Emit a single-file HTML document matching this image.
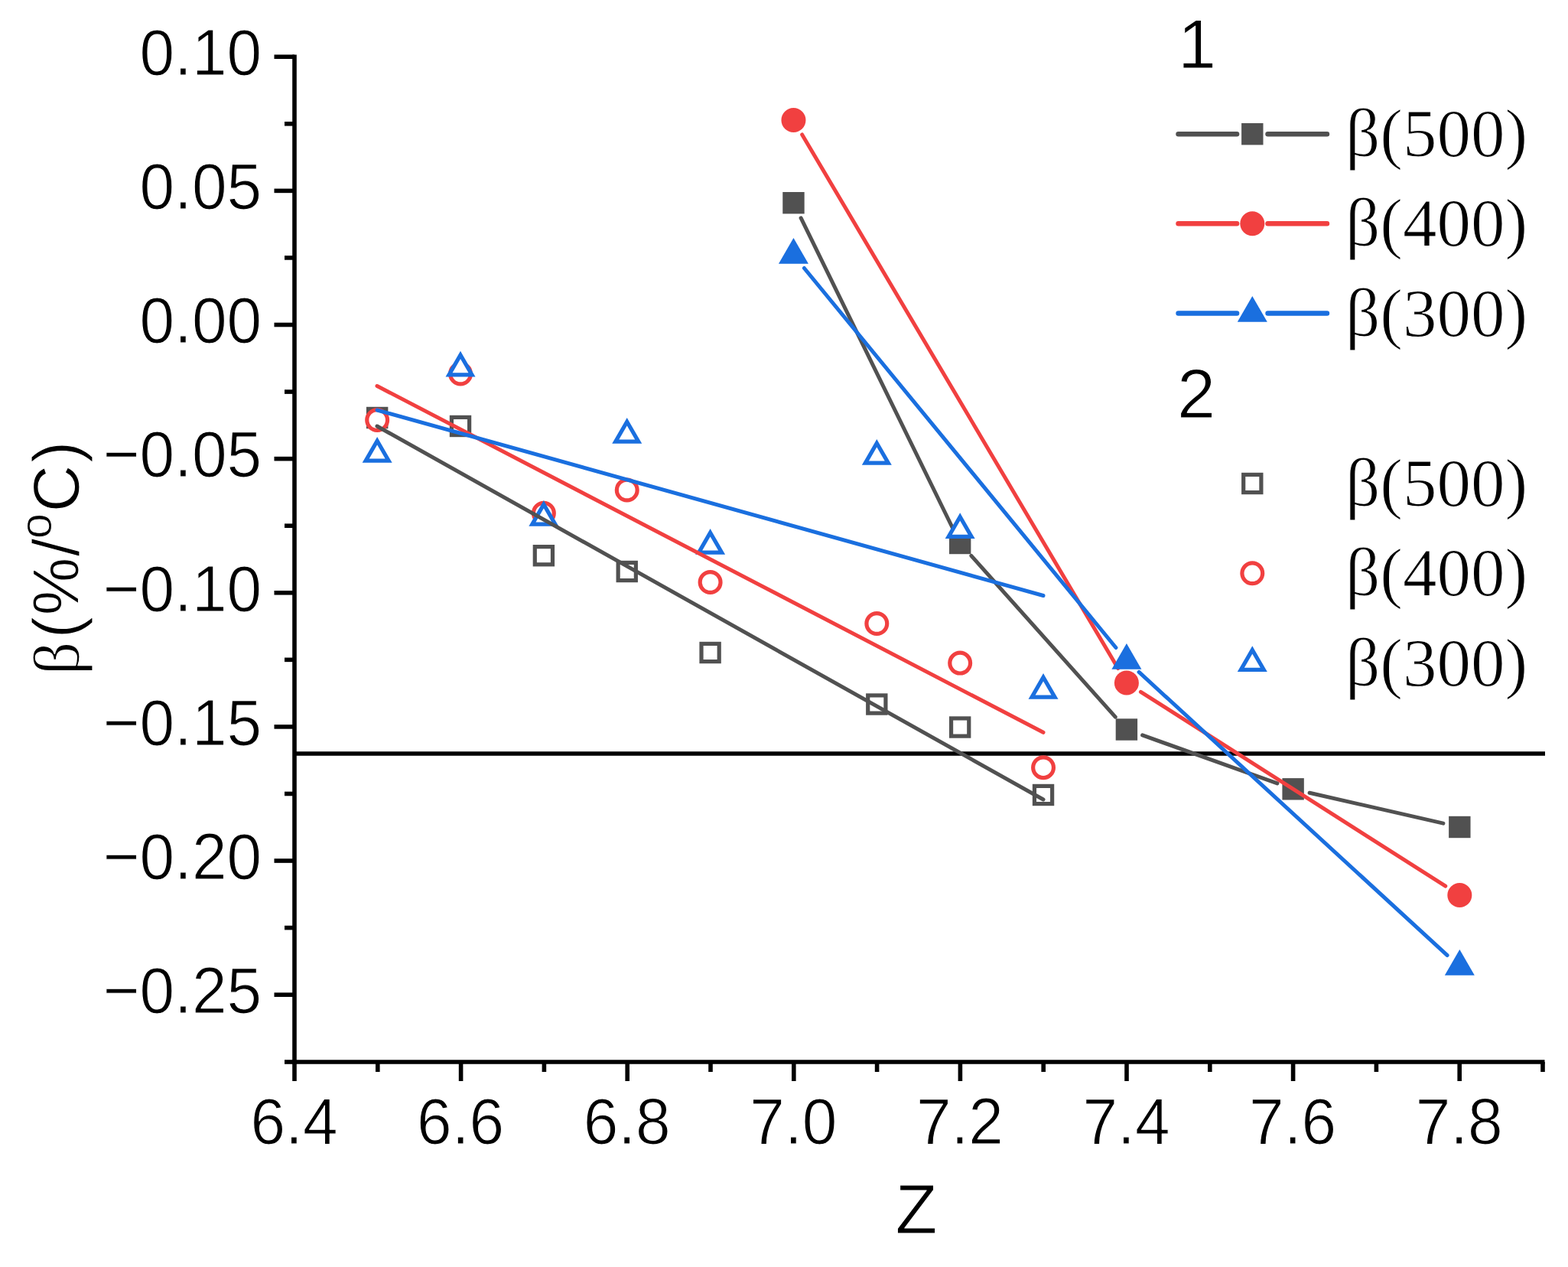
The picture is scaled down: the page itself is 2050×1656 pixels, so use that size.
<!DOCTYPE html>
<html lang="en">
<head>
<meta charset="utf-8">
<title>β(%/ºC) vs Z</title>
<style>
html,body{margin:0;padding:0;background:#fff;}
body{width:2050px;height:1656px;overflow:hidden;}
svg{display:block;}
.sans{font-family:"Liberation Sans",Arial,Helvetica,sans-serif;}
.serif{font-family:"Liberation Serif","Times New Roman",Times,serif;}
text{fill:#000;stroke:#fff;stroke-width:1.1px;stroke-linejoin:round;paint-order:fill stroke;}
</style>
</head>
<body>
<svg xmlns="http://www.w3.org/2000/svg" width="2050" height="1656" viewBox="0 0 2050 1656">
<rect x="0" y="0" width="2050" height="1656" fill="#fff"/>

<line id="refline" x1="385" y1="985" x2="2020" y2="985" stroke="#000" stroke-width="5.4"/>
<g id="group1">
<line x1="1047.13" y1="284.96" x2="1245.51" y2="690.24" stroke="#515151" stroke-width="5.0" stroke-linecap="round"/>
<line x1="1269.84" y1="726.40" x2="1458.24" y2="937.10" stroke="#515151" stroke-width="5.0" stroke-linecap="round"/>
<line x1="1493.62" y1="960.90" x2="1669.90" y2="1023.90" stroke="#515151" stroke-width="5.0" stroke-linecap="round"/>
<line x1="1712.07" y1="1036.20" x2="1886.89" y2="1076.10" stroke="#515151" stroke-width="5.0" stroke-linecap="round"/>
<rect x="1023.26" y="251.00" width="28.4" height="28.4" fill="#515151"/>
<rect x="1240.98" y="695.80" width="28.4" height="28.4" fill="#515151"/>
<rect x="1458.70" y="939.30" width="28.4" height="28.4" fill="#515151"/>
<rect x="1676.42" y="1017.10" width="28.4" height="28.4" fill="#515151"/>
<rect x="1894.14" y="1066.80" width="28.4" height="28.4" fill="#515151"/>
<line x1="1048.67" y1="175.93" x2="1461.69" y2="873.57" stroke="#F14040" stroke-width="5.0" stroke-linecap="round"/>
<line x1="1491.45" y1="904.32" x2="1889.79" y2="1158.18" stroke="#F14040" stroke-width="5.0" stroke-linecap="round"/>
<circle cx="1037.46" cy="157.00" r="16.0" fill="#F14040"/>
<circle cx="1472.90" cy="892.50" r="16.0" fill="#F14040"/>
<circle cx="1908.34" cy="1170.00" r="16.0" fill="#F14040"/>
<line x1="1051.43" y1="350.50" x2="1458.93" y2="846.50" stroke="#1A6FDF" stroke-width="5.0" stroke-linecap="round"/>
<line x1="1489.10" y1="878.38" x2="1892.14" y2="1248.62" stroke="#1A6FDF" stroke-width="5.0" stroke-linecap="round"/>
<polygon points="1037.46,310.98 1056.96,344.76 1017.96,344.76" fill="#1A6FDF"/>
<polygon points="1472.90,840.98 1492.40,874.76 1453.40,874.76" fill="#1A6FDF"/>
<polygon points="1908.34,1240.98 1927.84,1274.76 1888.84,1274.76" fill="#1A6FDF"/>
</g>
<g id="group2">
<rect x="481.56" y="534.40" width="23.2" height="23.2" fill="#fff" stroke="#515151" stroke-width="5.2"/>
<rect x="590.42" y="545.40" width="23.2" height="23.2" fill="#fff" stroke="#515151" stroke-width="5.2"/>
<rect x="699.28" y="714.60" width="23.2" height="23.2" fill="#fff" stroke="#515151" stroke-width="5.2"/>
<rect x="808.14" y="735.40" width="23.2" height="23.2" fill="#fff" stroke="#515151" stroke-width="5.2"/>
<rect x="917.00" y="841.40" width="23.2" height="23.2" fill="#fff" stroke="#515151" stroke-width="5.2"/>
<rect x="1134.72" y="908.90" width="23.2" height="23.2" fill="#fff" stroke="#515151" stroke-width="5.2"/>
<rect x="1243.58" y="938.90" width="23.2" height="23.2" fill="#fff" stroke="#515151" stroke-width="5.2"/>
<rect x="1352.44" y="1027.40" width="23.2" height="23.2" fill="#fff" stroke="#515151" stroke-width="5.2"/>
<circle cx="493.16" cy="549.00" r="13.4" fill="#fff" stroke="#F14040" stroke-width="5.2"/>
<circle cx="602.02" cy="488.50" r="13.4" fill="#fff" stroke="#F14040" stroke-width="5.2"/>
<circle cx="710.88" cy="670.70" r="13.4" fill="#fff" stroke="#F14040" stroke-width="5.2"/>
<circle cx="819.74" cy="640.50" r="13.4" fill="#fff" stroke="#F14040" stroke-width="5.2"/>
<circle cx="928.60" cy="761.00" r="13.4" fill="#fff" stroke="#F14040" stroke-width="5.2"/>
<circle cx="1146.32" cy="815.00" r="13.4" fill="#fff" stroke="#F14040" stroke-width="5.2"/>
<circle cx="1255.18" cy="866.60" r="13.4" fill="#fff" stroke="#F14040" stroke-width="5.2"/>
<circle cx="1364.04" cy="1003.20" r="13.4" fill="#fff" stroke="#F14040" stroke-width="5.2"/>
<polygon points="493.16,576.18 508.16,602.16 478.16,602.16" fill="#fff" stroke="#1A6FDF" stroke-width="5.2" stroke-linejoin="miter"/>
<polygon points="602.02,463.98 617.02,489.96 587.02,489.96" fill="#fff" stroke="#1A6FDF" stroke-width="5.2" stroke-linejoin="miter"/>
<polygon points="710.88,659.18 725.88,685.16 695.88,685.16" fill="#fff" stroke="#1A6FDF" stroke-width="5.2" stroke-linejoin="miter"/>
<polygon points="819.74,551.18 834.74,577.16 804.74,577.16" fill="#fff" stroke="#1A6FDF" stroke-width="5.2" stroke-linejoin="miter"/>
<polygon points="928.60,696.18 943.60,722.16 913.60,722.16" fill="#fff" stroke="#1A6FDF" stroke-width="5.2" stroke-linejoin="miter"/>
<polygon points="1146.32,579.18 1161.32,605.16 1131.32,605.16" fill="#fff" stroke="#1A6FDF" stroke-width="5.2" stroke-linejoin="miter"/>
<polygon points="1255.18,675.48 1270.18,701.46 1240.18,701.46" fill="#fff" stroke="#1A6FDF" stroke-width="5.2" stroke-linejoin="miter"/>
<polygon points="1364.04,885.18 1379.04,911.16 1349.04,911.16" fill="#fff" stroke="#1A6FDF" stroke-width="5.2" stroke-linejoin="miter"/>
<line x1="493" y1="557" x2="1364" y2="1045" stroke="#515151" stroke-width="5.0" stroke-linecap="round"/>
<line x1="493" y1="504.5" x2="1364" y2="957.3" stroke="#F14040" stroke-width="5.0" stroke-linecap="round"/>
<line x1="493" y1="536" x2="1364" y2="778.5" stroke="#1A6FDF" stroke-width="5.0" stroke-linecap="round"/>
</g>
<g id="axes" stroke="#000" stroke-width="5.6" fill="none">
<line x1="385" y1="71.5" x2="385" y2="1391"/>
<line x1="382" y1="1388" x2="2019.5" y2="1388"/>
<line x1="358.5" y1="74.23" x2="385" y2="74.23"/>
<line x1="372" y1="161.80" x2="385" y2="161.80"/>
<line x1="358.5" y1="249.37" x2="385" y2="249.37"/>
<line x1="372" y1="336.93" x2="385" y2="336.93"/>
<line x1="358.5" y1="424.50" x2="385" y2="424.50"/>
<line x1="372" y1="512.07" x2="385" y2="512.07"/>
<line x1="358.5" y1="599.63" x2="385" y2="599.63"/>
<line x1="372" y1="687.20" x2="385" y2="687.20"/>
<line x1="358.5" y1="774.77" x2="385" y2="774.77"/>
<line x1="372" y1="862.34" x2="385" y2="862.34"/>
<line x1="358.5" y1="949.90" x2="385" y2="949.90"/>
<line x1="372" y1="1037.47" x2="385" y2="1037.47"/>
<line x1="358.5" y1="1125.04" x2="385" y2="1125.04"/>
<line x1="372" y1="1212.61" x2="385" y2="1212.61"/>
<line x1="358.5" y1="1300.17" x2="385" y2="1300.17"/>
<line x1="372" y1="1388" x2="385" y2="1388"/>
<line x1="385.00" y1="1388" x2="385.00" y2="1413"/>
<line x1="493.80" y1="1388" x2="493.80" y2="1401"/>
<line x1="602.60" y1="1388" x2="602.60" y2="1413"/>
<line x1="711.40" y1="1388" x2="711.40" y2="1401"/>
<line x1="820.20" y1="1388" x2="820.20" y2="1413"/>
<line x1="929.00" y1="1388" x2="929.00" y2="1401"/>
<line x1="1037.80" y1="1388" x2="1037.80" y2="1413"/>
<line x1="1146.60" y1="1388" x2="1146.60" y2="1401"/>
<line x1="1255.40" y1="1388" x2="1255.40" y2="1413"/>
<line x1="1364.20" y1="1388" x2="1364.20" y2="1401"/>
<line x1="1473.00" y1="1388" x2="1473.00" y2="1413"/>
<line x1="1581.80" y1="1388" x2="1581.80" y2="1401"/>
<line x1="1690.60" y1="1388" x2="1690.60" y2="1413"/>
<line x1="1799.40" y1="1388" x2="1799.40" y2="1401"/>
<line x1="1908.20" y1="1388" x2="1908.20" y2="1413"/>
<line x1="2017.00" y1="1388" x2="2017.00" y2="1401"/>
</g>
<g class="sans" font-size="82" text-anchor="end">
<text transform="translate(342.1,98.0) scale(1,1.05)">0.10</text>
<text transform="translate(342.1,273.2) scale(1,1.05)">0.05</text>
<text transform="translate(342.1,448.3) scale(1,1.05)">0.00</text>
<text transform="translate(342.1,623.4) scale(1,1.05)">−0.05</text>
<text transform="translate(342.1,798.6) scale(1,1.05)">−0.10</text>
<text transform="translate(342.1,973.7) scale(1,1.05)">−0.15</text>
<text transform="translate(342.1,1148.8) scale(1,1.05)">−0.20</text>
<text transform="translate(342.1,1324.0) scale(1,1.05)">−0.25</text>
</g>
<g class="sans" font-size="82" text-anchor="middle">
<text transform="translate(384.5,1494.9) scale(1,1.036)">6.4</text>
<text transform="translate(602.1,1494.9) scale(1,1.036)">6.6</text>
<text transform="translate(819.7,1494.9) scale(1,1.036)">6.8</text>
<text transform="translate(1037.3,1494.9) scale(1,1.036)">7.0</text>
<text transform="translate(1254.9,1494.9) scale(1,1.036)">7.2</text>
<text transform="translate(1472.5,1494.9) scale(1,1.036)">7.4</text>
<text transform="translate(1690.1,1494.9) scale(1,1.036)">7.6</text>
<text transform="translate(1907.7,1494.9) scale(1,1.036)">7.8</text>
</g>
<text class="sans" font-size="90" text-anchor="middle" x="1198" y="1611.5">Z</text>
<text class="sans" font-size="85" letter-spacing="1.5" text-anchor="middle" transform="translate(102.5,728.5) rotate(-90)"><tspan class="serif">β</tspan><tspan dx="3">(%/</tspan><tspan font-size="60" dx="-2" dy="-36">o</tspan><tspan dy="36">C</tspan><tspan dx="1.5">)</tspan></text>
<g id="legend">
<text class="sans" font-size="90" x="1540" y="88.8">1</text>
<text class="sans" font-size="90" x="1539" y="546">2</text>
<line x1="1540.5" y1="175.2" x2="1617.1" y2="175.2" stroke="#515151" stroke-width="6.4" stroke-linecap="round"/>
<line x1="1657.5" y1="175.2" x2="1735.0" y2="175.2" stroke="#515151" stroke-width="6.4" stroke-linecap="round"/>
<rect x="1623.10" y="161.00" width="28.4" height="28.4" fill="#515151"/>
<text class="serif" font-size="89" x="1759" y="204.2">β(500)</text>
<line x1="1540.5" y1="292.3" x2="1617.1" y2="292.3" stroke="#F14040" stroke-width="6.4" stroke-linecap="round"/>
<line x1="1657.5" y1="292.3" x2="1735.0" y2="292.3" stroke="#F14040" stroke-width="6.4" stroke-linecap="round"/>
<circle cx="1637.30" cy="292.30" r="16.0" fill="#F14040"/>
<text class="serif" font-size="89" x="1759" y="321.3">β(400)</text>
<line x1="1540.5" y1="409.5" x2="1617.1" y2="409.5" stroke="#1A6FDF" stroke-width="6.4" stroke-linecap="round"/>
<line x1="1657.5" y1="409.5" x2="1735.0" y2="409.5" stroke="#1A6FDF" stroke-width="6.4" stroke-linecap="round"/>
<polygon points="1637.30,386.98 1656.80,420.76 1617.80,420.76" fill="#1A6FDF"/>
<text class="serif" font-size="89" x="1759" y="438.5">β(300)</text>
<rect x="1625.70" y="620.40" width="23.2" height="23.2" fill="#fff" stroke="#515151" stroke-width="5.2"/>
<text class="serif" font-size="89" x="1759" y="661.0">β(500)</text>
<circle cx="1637.30" cy="749.30" r="13.4" fill="#fff" stroke="#F14040" stroke-width="5.2"/>
<text class="serif" font-size="89" x="1759" y="778.3">β(400)</text>
<polygon points="1637.30,849.48 1652.30,875.46 1622.30,875.46" fill="#fff" stroke="#1A6FDF" stroke-width="5.2" stroke-linejoin="miter"/>
<text class="serif" font-size="89" x="1759" y="895.8">β(300)</text>
</g>
</svg>
</body>
</html>
